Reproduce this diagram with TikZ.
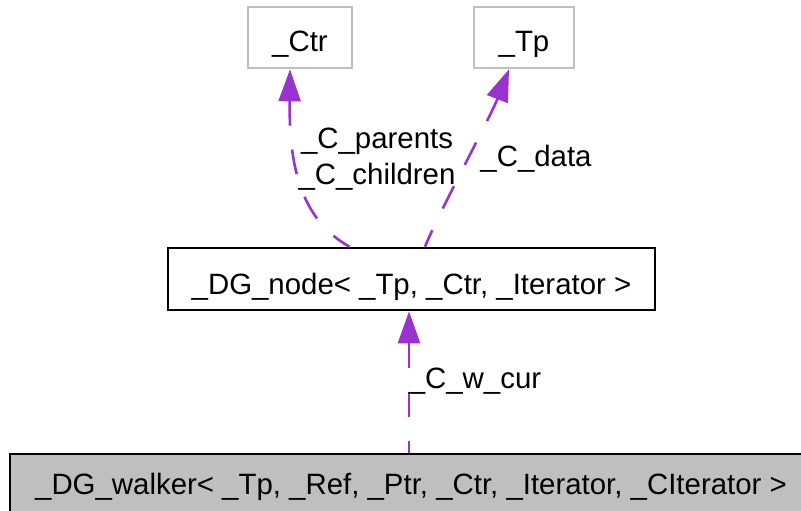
\documentclass[tikz,border=0pt]{standalone}
\usepackage{fontspec}
\setmainfont{Liberation Sans}
\usetikzlibrary{arrows.meta}
\definecolor{edgepurple}{RGB}{154,50,205}
\definecolor{boxgray}{RGB}{191,191,191}
\begin{document}
\begin{tikzpicture}[x=1pt,y=-1pt,
  every node/.style={font=\fontsize{29.4}{36}\selectfont, inner sep=0pt},
  classbox/.style={draw, rectangle, line width=2.6pt, text height=31pt, text depth=0pt},
  extbox/.style={draw=boxgray, rectangle, line width=2.6pt, text height=29pt, text depth=0pt},
  dep/.style={edgepurple, line width=2.6pt, dash pattern=on 25pt off 24pt,
    {Triangle[length=32pt,width=22pt]}-}]
\useasboundingbox (0,0) rectangle (801,511);
\node[extbox, minimum width=104pt, minimum height=61pt] (ctr) at (300,37.5) {\_Ctr};
\node[extbox, minimum width=100pt, minimum height=61pt] (tp) at (524,37.5) {\_Tp};
\node[classbox, minimum width=487pt, minimum height=62pt] (dgnode) at (411.5,279) {\_DG\_node< \_Tp, \_Ctr, \_Iterator >};
\node[classbox, fill=boxgray, minimum width=802pt, minimum height=68pt, text height=12pt] (walker) at (411,488) {\_DG\_walker< \_Tp, \_Ref, \_Ptr, \_Ctr, \_Iterator, \_CIterator >};
% edges
\draw[dep] ([xshift=-10pt]ctr.south) .. controls (289,160) and (298,218) .. ([xshift=-62pt]dgnode.north);
\draw[dep] ([xshift=-15pt]tp.south) .. controls (490,118) and (440,210) .. ([xshift=13.5pt]dgnode.north);
\draw[dep] ([xshift=-2.5pt]dgnode.south) -- ([xshift=-2pt]walker.north);
% labels
\node[align=center] (lparents) at (377,159) {\_C\_parents\\\_C\_children};
\node (ldata) at (536,159) {\_C\_data};
\node (lwcur) at (475,381) {\_C\_w\_cur};
\end{tikzpicture}
\end{document}
